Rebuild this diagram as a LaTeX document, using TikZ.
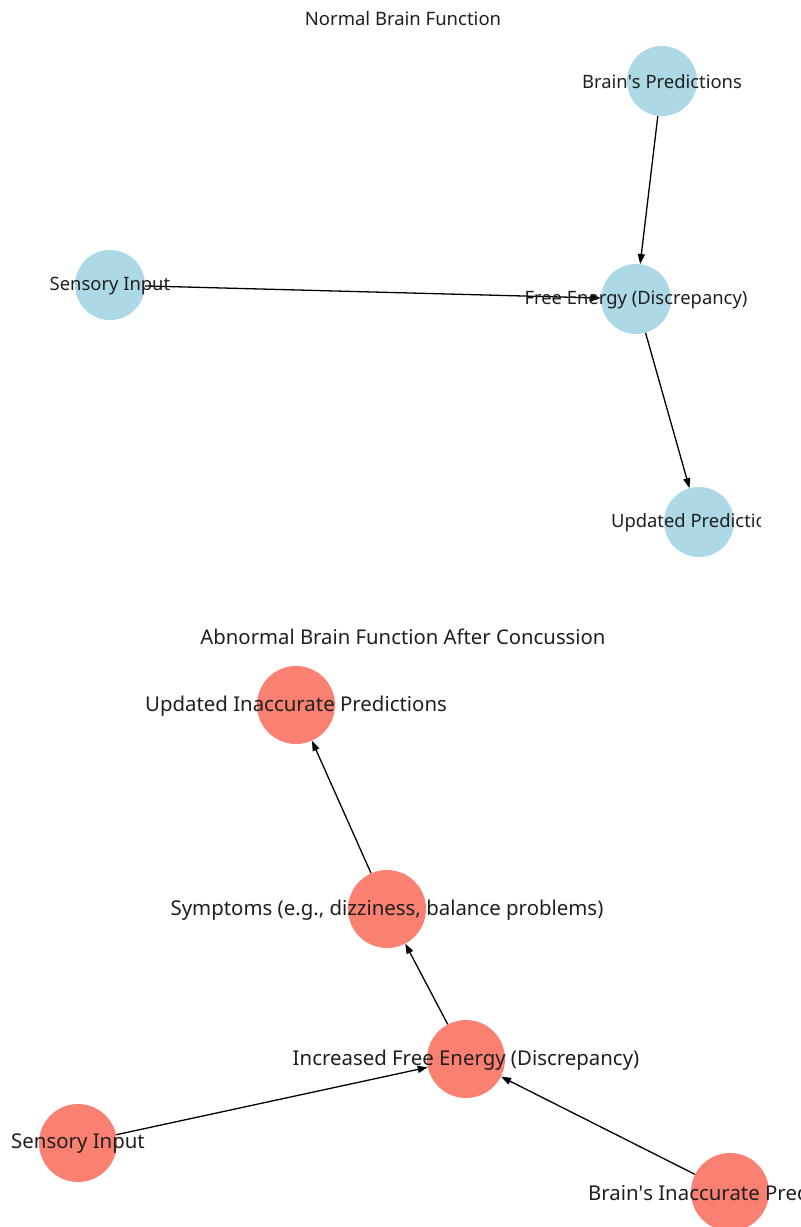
\documentclass[tikz,border=0pt]{standalone}
\usepackage{fontspec}
\setmainfont{Noto Sans}
\usepackage{xcolor}
\usetikzlibrary{arrows.meta}

\definecolor{lightblue}{HTML}{ADD8E6}
\definecolor{salmon}{HTML}{FA8072}
\definecolor{labelgray}{HTML}{1F1F1F}

\begin{document}
\begin{tikzpicture}[
    x=1pt, y=-1pt,
    normal/.style={circle, fill=lightblue, minimum size=70pt, inner sep=0pt},
    concussed/.style={circle, fill=salmon, minimum size=78pt, inner sep=0pt},
    toplabel/.style={font=\fontsize{18.4}{21}\selectfont, text=labelgray, inner sep=0pt, yshift=-1pt},
    botlabel/.style={font=\fontsize{20.4}{23}\selectfont, text=labelgray, inner sep=0pt, yshift=-1pt},
    heading/.style={font=\fontsize{18.5}{21}\selectfont, text=labelgray},
    edge/.style={-{Triangle[length=10pt,width=7pt]}, line width=1.3pt, black},
]
\useasboundingbox (0,0) rectangle (801,1227);

% Normal brain function
\node[heading] (titleA) at (403,19) {Normal Brain Function};
\node[normal] (predA) at (662,81) {};
\node[normal] (sensA) at (110,285) {};
\node[normal] (freeA) at (636,299) {};
\node[normal] (updA) at (699,522) {};

\draw[edge] (predA) -- (freeA);
\draw[edge] (sensA) -- (freeA);
\draw[edge] (freeA) -- (updA);

\begin{scope}
\clip (0,0) rectangle (760,600);
\node[toplabel] (predAtxt) at (predA) {Brain\textquotesingle s Predictions};
\node[toplabel] (sensAtxt) at (sensA) {Sensory Input};
\node[toplabel] (freeAtxt) at (freeA) {Free Energy (Discrepancy)};
\node[toplabel] (updAtxt) at (updA) {Updated Predictions};
\end{scope}

% Abnormal brain function after concussion
\node[heading, font=\fontsize{20.3}{23}\selectfont] (titleB) at (403,637) {Abnormal Brain Function After Concussion};
\node[concussed] (updB) at (296,705) {};
\node[concussed] (sympB) at (387,909) {};
\node[concussed] (freeB) at (466,1059) {};
\node[concussed] (sensB) at (78,1143) {};
\node[concussed] (predB) at (730,1192) {};

\draw[edge] (sensB) -- (freeB);
\draw[edge] (predB) -- (freeB);
\draw[edge] (freeB) -- (sympB);
\draw[edge] (sympB) -- (updB);

\begin{scope}
\clip (0,600) rectangle (801,1227);
\node[botlabel] (updBtxt) at (updB) {Updated Inaccurate Predictions};
\node[botlabel] (sympBtxt) at (sympB) {Symptoms (e.g., dizziness, balance problems)};
\node[botlabel] (freeBtxt) at (freeB) {Increased Free Energy (Discrepancy)};
\node[botlabel] (sensBtxt) at (sensB) {Sensory Input};
\node[botlabel] (predBtxt) at (predB) {Brain\textquotesingle s Inaccurate Predictions};
\end{scope}

\end{tikzpicture}
\end{document}
